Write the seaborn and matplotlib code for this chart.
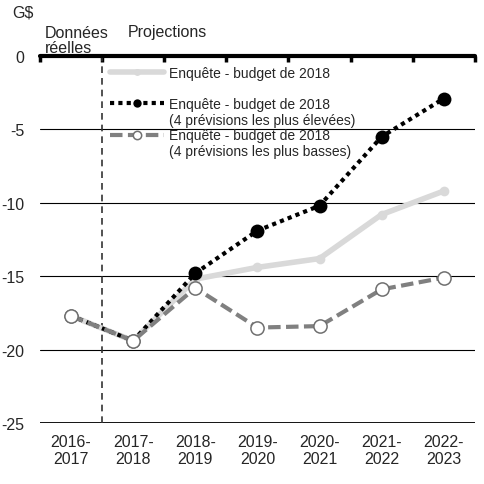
import matplotlib
matplotlib.use("Agg")
import matplotlib.pyplot as plt
from matplotlib.lines import Line2D
import seaborn as sns
import numpy as np
import pandas as pd

categories = ["2016-\n2017", "2017-\n2018", "2018-\n2019", "2019-\n2020",
              "2020-\n2021", "2021-\n2022", "2022-\n2023"]
survey = [-17.7, -19.4, -15.2, -14.4, -13.8, -10.8, -9.2]
survey_high = [-17.7, -19.4, -14.8, -11.9, -10.2, -5.5, -2.9]
survey_low = [-17.7, -19.4, -15.8, -18.5, -18.4, -15.9, -15.1]
yticks = [0, -5, -10, -15, -20, -25]
label_main = "Enquête - budget de 2018"
label_high_note = "(4 prévisions les plus élevées)"
label_low_note = "(4 prévisions les plus basses)"

sns.set_theme(style="white")
plt.rcParams["font.family"] = ["Liberation Sans", "DejaVu Sans"]

fig = plt.figure(figsize=(4.84, 4.85), dpi=100)
ax = fig.add_axes([0.0826, 0.1258, 0.8984, 0.7567])

x = np.arange(len(categories))
df = pd.DataFrame({"x": x, "survey": survey, "high": survey_high, "low": survey_low})

dots = (0, (1, 1))
dashes = (0, (3, 1.3))

sns.lineplot(data=df, x="x", y="survey", ax=ax, color="#d9d9d9", lw=4,
             marker="o", markersize=7, markeredgewidth=0, markerfacecolor="#d9d9d9",
             label="a", zorder=3)
sns.lineplot(data=df, x="x", y="high", ax=ax, color="black", lw=3,
             marker="o", markersize=10, markeredgewidth=0, markerfacecolor="black",
             label="b", zorder=4)
sns.lineplot(data=df, x="x", y="low", ax=ax, color="#808080", lw=3,
             marker="o", markersize=9.5, markeredgewidth=1.1, markerfacecolor="white",
             markeredgecolor="#707070", label="c", zorder=5)
l_main, l_high, l_low = ax.lines[0], ax.lines[1], ax.lines[2]
l_high.set_linestyle(dots)
l_low.set_linestyle(dashes)
ax.get_legend().remove()

ax.set_xlim(-0.5, len(categories) - 0.5)
ax.set_ylim(-25, 0)
ax.set_yticks(yticks)
ax.set_yticklabels([str(v) for v in yticks], fontsize=11.5)
ax.set_xticks(x)
ax.set_xticklabels(categories, fontsize=11.5)
ax.set_xlabel("")
ax.set_ylabel("")
for v in yticks[1:-1]:
    ax.axhline(v, color="black", lw=0.8, zorder=1)
ax.axhline(-25, color="black", lw=1.3, zorder=1)
ax.axhline(0, color="black", lw=3, zorder=6, clip_on=False)
ax.axvline(0.5, color="#333333", lw=1.2, ls=(0, (4, 3)), zorder=2)

ax.set_xticks(np.arange(len(categories) + 1) - 0.5, minor=True)
ax.tick_params(axis="x", which="major", length=0, pad=8)
ax.tick_params(axis="x", which="minor", top=True, bottom=False, direction="in",
               length=4, width=2.5, color="black")
ax.tick_params(axis="y", length=0, pad=11)
for s in ax.spines.values():
    s.set_visible(False)

fig.text(12 / 484, 1 - 13 / 485, "G$", fontsize=11.5, va="center", ha="left")
fig.text(45 / 484, 1 - 41 / 485, "Données\nréelles", fontsize=11.5, va="center", ha="left",
         linespacing=0.95)
fig.text(128 / 484, 1 - 32 / 485, "Projections", fontsize=11.5, va="center", ha="left")

def handle_like(line, ls, ms):
    return Line2D([], [], color=line.get_color(), lw=line.get_linewidth(),
                  linestyle=ls, marker="o", markersize=ms,
                  markerfacecolor=line.get_markerfacecolor(),
                  markeredgecolor=line.get_markeredgecolor(),
                  markeredgewidth=line.get_markeredgewidth())

blank = Line2D([], [], color="none")
common = dict(frameon=False, fontsize=10, handlelength=3.95, handletextpad=0.36,
              borderpad=0, borderaxespad=0, loc="upper left")
leg1 = ax.legend([handle_like(l_main, "-", 5)], [label_main],
                 bbox_to_anchor=(0.16, 0.974), **common)
ax.add_artist(leg1)
leg2 = ax.legend([handle_like(l_high, dots, 6), blank, handle_like(l_low, dashes, 6), blank],
                 [label_main, label_high_note, label_main, label_low_note],
                 bbox_to_anchor=(0.16, 0.888), labelspacing=0.12, **common)
fig.savefig("out.png", dpi=100)
